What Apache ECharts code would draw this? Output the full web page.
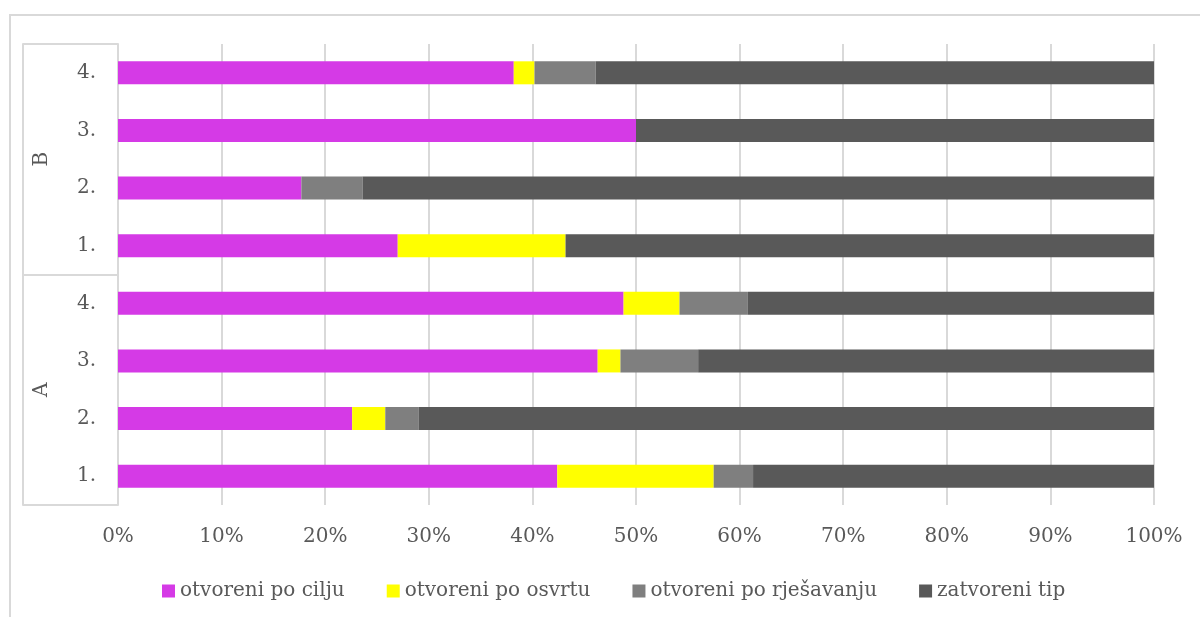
<!DOCTYPE html>
<html>
<head>
<meta charset="utf-8">
<script src="https://cdn.jsdelivr.net/npm/echarts@6/dist/echarts.min.js"></script>
<style>
html,body{margin:0;padding:0;background:#fff;}
#chart{width:1200px;height:617px;}
</style>
</head>
<body>
<div id="chart"></div>
<script>
// categories bottom -> top
const categories = ['A1', 'A2', 'A3', 'A4', 'B1', 'B2', 'B3', 'B4'];
const itemLabels = ['1.', '2.', '3.', '4.', '1.', '2.', '3.', '4.'];
const groupLabels = ['A', 'B'];
const seriesNames = ['otvoreni po cilju', 'otvoreni po osvrtu', 'otvoreni po rješavanju', 'zatvoreni tip'];
// percentages
const poCilju      = [42.4, 22.6, 46.3, 48.8, 27.0, 17.7, 50.0, 38.2];
const poOsvrtu     = [15.1,  3.2,  2.2,  5.4, 16.2,  0.0,  0.0,  2.0];
const poRjesavanju = [ 3.8,  3.2,  7.5,  6.6,  0.0,  5.9,  0.0,  5.9];
const zatvoreni    = [38.7, 71.0, 44.0, 39.2, 56.8, 76.4, 50.0, 53.9];
const xTicks = [0, 10, 20, 30, 40, 50, 60, 70, 80, 90, 100];

const colors = ['#D53AE6', '#FFFF00', '#7F7F7F', '#595959'];
const FONT = 'DejaVu Serif';
const FS = 20;
const TXT = '#595959';
const LINE = '#d9d9d9';

const chart = echarts.init(document.getElementById('chart'), null, {renderer: 'canvas'});
const values = [poCilju, poOsvrtu, poRjesavanju, zatvoreni];

chart.setOption({
  animation: false,
  color: colors,
  textStyle: {fontFamily: FONT},
  graphic: [{
    type: 'rect',
    shape: {x: 10, y: 15, width: 1200, height: 700},
    style: {fill: 'none', stroke: LINE, lineWidth: 2},
    silent: true
  }],
  grid: {left: 118, right: 46, top: 44, bottom: 112, containLabel: false},
  legend: {
    left: 157,
    top: 576,
    itemWidth: 13,
    itemHeight: 13,
    itemGap: 42,
    icon: 'rect',
    textStyle: {fontFamily: FONT, fontSize: FS, color: TXT},
    data: seriesNames
  },
  xAxis: {
    type: 'value',
    min: xTicks[0],
    max: xTicks[xTicks.length - 1],
    interval: 10,
    axisLine: {show: false},
    axisTick: {show: false},
    splitLine: {show: true, lineStyle: {color: LINE, width: 2}},
    axisLabel: {
      formatter: '{value}%',
      fontFamily: FONT, fontSize: FS, color: TXT, margin: 22
    }
  },
  yAxis: [{
    type: 'category',
    data: categories,
    position: 'left',
    axisLine: {show: true, lineStyle: {color: LINE, width: 2}},
    axisTick: {show: false},
    axisLabel: {
      formatter: (v, i) => itemLabels[i],
      fontFamily: FONT, fontSize: FS, color: TXT, margin: 22
    }
  }, {
    type: 'category',
    data: groupLabels,
    position: 'left',
    offset: 95,
    axisLine: {show: true, lineStyle: {color: LINE, width: 2}},
    axisTick: {show: true, inside: true, length: 95, lineStyle: {color: LINE, width: 2}},
    axisLabel: {
      inside: true,
      rotate: 90,
      margin: 9,
      fontFamily: FONT, fontSize: FS, color: TXT
    }
  }],
  series: seriesNames.map((name, k) => ({
    name: name,
    type: 'bar',
    stack: 'total',
    yAxisIndex: 0,
    barWidth: 23,
    data: values[k],
    itemStyle: {color: colors[k]}
  }))
});
</script>
</body>
</html>
